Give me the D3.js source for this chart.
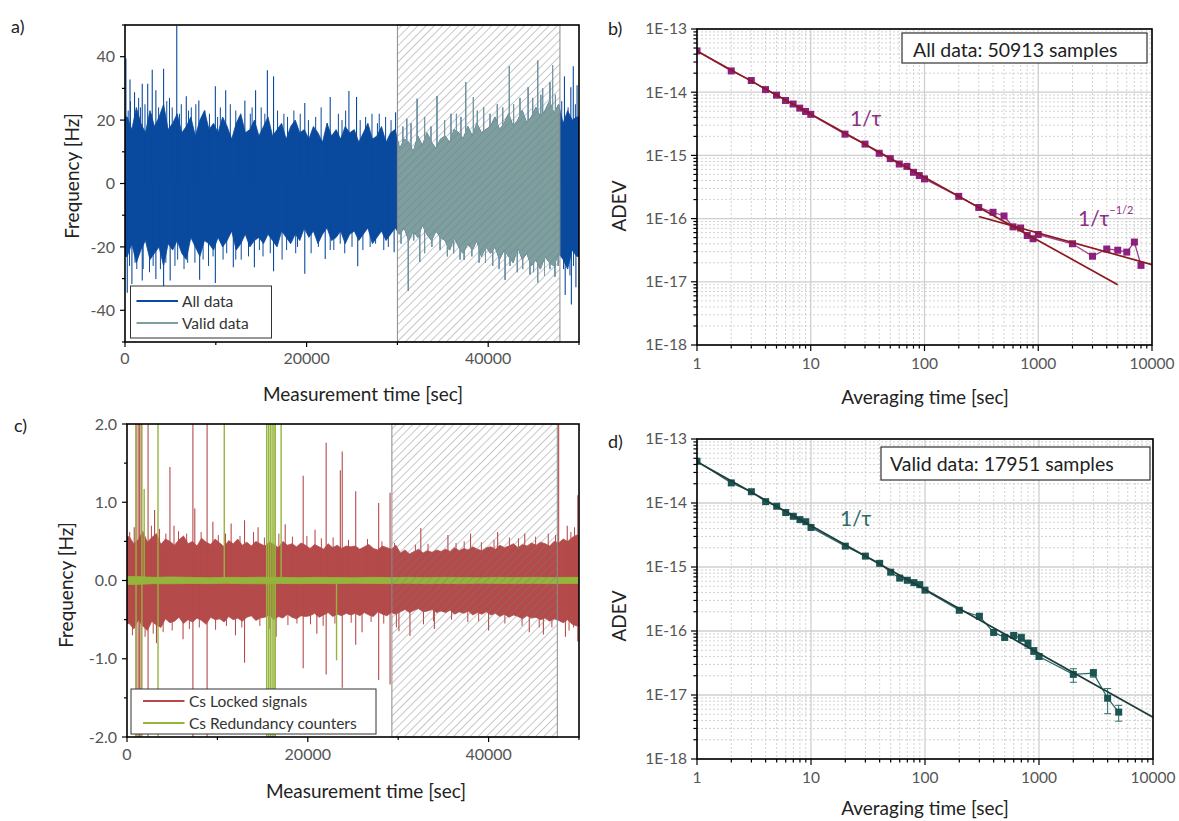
<!DOCTYPE html>
<html><head><meta charset="utf-8">
<script src="https://cdn.jsdelivr.net/npm/d3@7"></script>
<style>
body{margin:0;background:#fff;}
svg{display:block;font-family:Lato,"Open Sans",sans-serif;}
</style></head><body>
<svg id="chart" width="1179" height="821"></svg>
<script>
// ================= DATA =================
// --- panel a: frequency time series (envelope per 500 s bin) ---
const aBin = 500;
const aHi = [21,17,24,19,16,23,18,21,25,17, 19,22,16,18,21,15,20,23,17,19,
             16,21,18,14,19,22,16,17,20,15, 18,21,15,17,19,14,18,20,16,17,
             14,18,16,13,19,15,17,14,18,16, 17,13,16,19,14,15,18,13,16,17,
             11,14,13,10,15,12,16,13,11,14, 15,13,17,16,14,18,15,19,16,17,
             18,21,17,19,22,18,20,23,19,21, 24,21,23,26,22,25,19,23,20,21];
const aLo = [-23,-19,-25,-21,-18,-24,-22,-20,-26,-19, -21,-18,-22,-24,-17,-20,-23,-18,-19,-21,
             -17,-20,-18,-15,-21,-19,-16,-20,-18,-17, -19,-16,-18,-20,-15,-17,-19,-16,-18,-14,
             -17,-15,-19,-16,-14,-18,-17,-15,-19,-16, -15,-18,-16,-14,-19,-17,-15,-18,-16,-14,
             -16,-14,-18,-15,-17,-13,-16,-18,-15,-17, -18,-21,-17,-20,-22,-19,-21,-18,-23,-20,
             -22,-20,-24,-21,-23,-25,-20,-24,-22,-26, -24,-27,-23,-25,-26,-22,-24,-27,-21,-23];
// tall single excursions
const aSpikeT = [100,550,1050,1900,2500,3000,3400,4250,5700,6750,8130,9950,11090,13200,14380,15680,16360,19800,
                 22600,24660,25500,29800,31030,32170,34360,37520,38370,42330,44400,45450,46800,47090,48400,49100,49370,49790,
                 250,760,1900,3400,4250,4975,8220,9950,11930,14250,16360,19800,22050,25630,29640,31200,32460,
                 37350,41860,44600,45450,47350,48480,49160,49660];
const aSpikeV = [39.4,32.8,28.8,31.5,31.5,35.9,29.4,36.2,49.8,27.5,26.2,30.7,29.4,26.2,29.4,35.7,33.8,25.4,
                 27.3,29.2,27.3,22.5,20.4,26.7,27.6,32,27.3,37,30.4,38.8,32,37.3,33.8,30.4,37,31,
                 -34.5,-31.7,-30.6,-30.1,-33,-30.6,-30.4,-31.4,-26.4,-26.4,-27.7,-28.5,-23.8,-26.1,-21.7,-33.8,-24.8,
                 -24.1,-30.4,-28.7,-31.2,-29.4,-35.2,-38.2,-32.7];
// medium excursions forming the ragged edge
const aMidT = [350,600,1500,1700,2200,2900,3700,4100,4600,4900,5200,6000,6200,7000,7300,7800,8800,9300,10200,10500,
               11600,12200,12600,13800,14000,15000,15400,16800,17500,17900,18600,19300,20200,21000,21600,22300,23500,
               23900,24300,25900,26500,27200,27800,28000,28700,29300,30600,31500,33000,33700,35200,35900,36500,37000,
               38800,39500,40200,41000,41600,42800,43500,44900,45800,46000,47400,48100,48800,49600,
               500,1100,1300,2000,2700,3100,3900,4500,5500,5800,6500,6900,7700,8600,9200,9700,10800,11200,12200,12800,
               13600,14800,15200,16000,17300,17800,18800,19000,20500,21300,22600,23000,23700,24200,25000,26200,27000,
               27600,28500,29000,30400,31800,33000,33800,34700,35500,36200,36900,38200,39000,39700,40500,41200,42400,
               43200,43800,45000,46200,46800,47700,48300,49000,49400];
const aMidV = [23,26,27,24,25,22,24,23,26,27,24,22,25,23,24,25,23,22,21,24,
               25,23,21,22,24,24,22,23,22,21,23,22,20,21,24,19,22,
               20,23,20,21,22,19,22,21,20,18,19,21,18,20,22,22,21,
               23,24,22,25,24,25,27,27,28,30,28,26,24,25,
               -26,-25,-27,-27,-28,-26,-27,-25,-26,-24,-27,-25,-25,-24,-26,-23,-24,-22,-24,-24,
               -23,-21,-23,-22,-24,-21,-22,-20,-22,-20,-21,-21,-19,-22,-20,-21,-20,
               -19,-21,-20,-19,-18,-22,-20,-21,-23,-22,-24,-23,-25,-25,-26,-27,-26,
               -28,-27,-28,-29,-27,-26,-27,-29,-26];
const aValidWindow = [30000, 47900];

// --- panel c: Cs locked signals (red) and redundancy counters (green) ---
const cBin = 500;
const cRedHi = [0.56,0.47,0.52,0.63,0.49,0.55,0.6,0.46,0.53,0.5, 0.45,0.52,0.57,0.47,0.5,0.44,0.54,0.49,0.46,0.53,
                0.48,0.43,0.51,0.47,0.53,0.45,0.49,0.44,0.5,0.47, 0.44,0.49,0.46,0.42,0.5,0.45,0.47,0.43,0.48,0.45,
                0.41,0.46,0.43,0.4,0.47,0.42,0.45,0.41,0.44,0.43, 0.44,0.4,0.43,0.46,0.41,0.39,0.44,0.42,0.4,0.45,
                0.35,0.39,0.34,0.37,0.4,0.35,0.38,0.36,0.39,0.37, 0.4,0.37,0.42,0.38,0.41,0.39,0.43,0.4,0.38,0.42,
                0.43,0.4,0.45,0.42,0.44,0.47,0.42,0.46,0.44,0.48, 0.45,0.49,0.47,0.44,0.5,0.48,0.53,0.5,0.55,0.58];
const cRedLo = [-0.55,-0.62,-0.5,-0.58,-0.64,-0.52,-0.57,-0.6,-0.49,-0.54, -0.52,-0.47,-0.55,-0.5,-0.53,-0.48,-0.51,-0.56,-0.47,-0.5,
                -0.49,-0.53,-0.46,-0.5,-0.48,-0.52,-0.47,-0.45,-0.51,-0.48, -0.47,-0.44,-0.5,-0.46,-0.48,-0.43,-0.47,-0.49,-0.45,-0.46,
                -0.45,-0.42,-0.47,-0.44,-0.41,-0.46,-0.43,-0.45,-0.42,-0.44, -0.42,-0.45,-0.41,-0.44,-0.46,-0.4,-0.43,-0.45,-0.41,-0.43,
                -0.4,-0.37,-0.41,-0.38,-0.36,-0.4,-0.39,-0.37,-0.41,-0.39, -0.41,-0.38,-0.43,-0.4,-0.42,-0.39,-0.44,-0.41,-0.43,-0.4,
                -0.44,-0.42,-0.46,-0.43,-0.47,-0.44,-0.46,-0.49,-0.45,-0.48, -0.47,-0.5,-0.48,-0.52,-0.49,-0.51,-0.54,-0.5,-0.56,-0.58];
const cRedSpikeT = [800,1000,1000,1230,1230,1400,1400,1570,1570,2330,2330,3050,3260,4750,5200,6200,7290,7290,7500,8860,8860,
                    9500,11520,12000,13000,13000,14500,16500,17500,19490,19490,20800,21000,22030,22030,23600,23810,23810,
                    25300,25300,26000,27840,27840,29100,29100,30080,31300,32500,34000,35500,38000,40000,41000,44000,44500,
                    46060,47750,48500,48700,49870,49870];
const cRedSpikeV = [0.68,3,-3,3,-3,3,-3,3,-3,3,-3,0.9,-0.8,1.45,0.7,-0.75,3,-3,0.92,3,-3,
                    0.75,0.73,-0.7,0.77,-1.05,0.68,-0.72,0.72,1.34,-1.12,0.65,-0.68,1.76,-1.2,1.41,1.65,-1.37,
                    1.14,-0.82,-0.66,0.99,-1.27,1.12,-1.33,-0.65,-0.71,0.67,-0.62,0.58,0.6,-0.64,0.62,0.6,-0.66,
                    -0.69,3,-0.72,0.7,1.09,-0.78];
const cRedMidT = [300,2700,3600,4300,5700,6600,8200,10100,10900,12500,14000,15200,16800,18300,19900,21500,22800,24500,
                  26600,28200,29600,31900,33300,36400,37300,39200,40600,42300,43300,45200,46600,47400,49100,49500,
                  600,2000,2900,4000,5000,6900,8000,9800,11000,12700,14700,15800,17800,18800,20300,21700,23000,24800,
                  27000,28400,29800,32800,33900,35900,37700,38900,41800,43700,45600,47000,48900,49400];
const cRedMidV = [0.62,0.7,0.66,0.6,0.63,0.6,0.62,0.58,0.6,0.57,0.62,0.55,0.6,0.56,0.57,0.54,0.55,0.52,
                  0.53,0.5,0.48,0.46,0.47,0.48,0.5,0.49,0.52,0.55,0.54,0.56,0.6,0.58,0.62,0.68,
                  -0.7,-0.72,-0.68,-0.66,-0.64,-0.62,-0.6,-0.63,-0.58,-0.6,-0.58,-0.62,-0.57,-0.55,-0.56,-0.58,-0.55,-0.54,
                  -0.53,-0.55,-0.6,-0.56,-0.52,-0.5,-0.53,-0.52,-0.55,-0.58,-0.6,-0.6,-0.64,-0.6];
const cGreenBin = 2000;
const cGreenHi = [0.05,0.04,0.045,0.04,0.035,0.04,0.038,0.042,0.04,0.036,0.04,0.038,0.035,0.04,0.037,0.04,0.036,0.04,0.038,0.035,0.04,0.037,0.04,0.038,0.04];
const cGreenLo = [-0.05,-0.04,-0.042,-0.038,-0.04,-0.036,-0.04,-0.042,-0.038,-0.04,-0.037,-0.04,-0.036,-0.038,-0.04,-0.035,-0.04,-0.037,-0.04,-0.036,-0.038,-0.04,-0.037,-0.04,-0.038];
const cGreenSpikeT = [1000,1000,1650,1650,1900,3430,3430,10760,15450,15450,15650,15650,15850,15850,16050,16050,16250,16250,16400,16400,17050,23180];
const cGreenSpikeV = [3,-3,3,-3,1.17,3,-3,3,3,-3,3,-3,3,-3,3,-3,3,-3,3,-3,3,-1.02];
const cValidWindow = [29300, 47600];

// --- panel b: ADEV, all data ---
const tauB  = [1,2,3,4,5,6,7,8,9,10,20,30,40,50,60,70,80,90,100,200,300,400,500,600,700,800,900,1000,2000,3000,4000,5000,6000,7000,8000];
const adevB = [4.5e-14,2.17e-14,1.53e-14,1.10e-14,8.97e-15,7.4e-15,6.5e-15,5.6e-15,4.96e-15,4.46e-15,
               2.17e-15,1.51e-15,1.08e-15,8.9e-16,7.3e-16,6.7e-16,5.4e-16,4.8e-16,4.25e-16,
               2.25e-16,1.5e-16,1.26e-16,1.1e-16,7.4e-17,7.1e-17,5.4e-17,4.8e-17,5.6e-17,
               4.0e-17,2.54e-17,3.3e-17,3.16e-17,2.95e-17,4.25e-17,1.82e-17];
const fitB1Tau = [1, 5000],   fitB1Adev = [4.5e-14, 9.0e-18];
const fitB2Tau = [300, 10000], fitB2Adev = [1.08e-16, 1.87e-17];

// --- panel d: ADEV, valid data ---
const tauD  = [1,2,3,4,5,6,7,8,9,10,20,30,40,50,60,70,80,90,100,200,300,400,500,600,700,800,900,1000,2000,3000,4000,5000];
const adevD = [4.5e-14,2.06e-14,1.5e-14,1.05e-14,8.9e-15,7.1e-15,6.2e-15,5.5e-15,5.1e-15,4.15e-15,
               2.12e-15,1.48e-15,1.14e-15,8.3e-16,6.7e-16,6.2e-16,5.7e-16,5.3e-16,4.35e-16,
               2.11e-16,1.7e-16,9.5e-17,7.95e-17,8.5e-17,7.85e-17,6.4e-17,4.9e-17,4.0e-17,
               2.1e-17,2.2e-17,8.9e-18,5.4e-18];
const errLoD = [null,null,null,null,null,null,null,null,null,null,null,null,null,null,null,null,null,null,null,
                1.95e-16,1.6e-16,8.8e-17,7.2e-17,7.8e-17,6.9e-17,5.4e-17,4.3e-17,3.6e-17,1.58e-17,1.9e-17,5.1e-18,3.9e-18];
const errHiD = [null,null,null,null,null,null,null,null,null,null,null,null,null,null,null,null,null,null,null,
                2.28e-16,1.8e-16,1.03e-16,8.8e-17,9.2e-17,8.9e-17,7.2e-17,5.5e-17,4.4e-17,2.57e-17,2.5e-17,1.26e-17,6.9e-18];
const fitDTau = [1, 10000], fitDAdev = [4.4e-14, 4.5e-18];

// --- ticks / labels ---
const timeTicks = [0, 20000, 40000];
const timeMinor = [10000, 30000, 50000];
const aYTicks = [-40, -20, 0, 20, 40];
const aYMinor = [-50, -30, -10, 10, 30, 50];
const cYTicks = [-2, -1, 0, 1, 2];
const cYLabels = ["-2.0", "-1.0", "0.0", "1.0", "2.0"];
const cYMinor = [-1.5, -0.5, 0.5, 1.5];
const tauTicks = [1, 10, 100, 1000, 10000];
const tauLabels = ["1", "10", "100", "1000", "10000"];
const adevTicks = [1e-18, 1e-17, 1e-16, 1e-15, 1e-14, 1e-13];
const adevLabels = ["1E-18", "1E-17", "1E-16", "1E-15", "1E-14", "1E-13"];

// ================= DRAWING =================
const svg = d3.select("#chart");
const defs = svg.append("defs");
const pat = defs.append("pattern").attr("id", "hatch").attr("patternUnits", "userSpaceOnUse")
  .attr("width", 5.8).attr("height", 5.8).attr("patternTransform", "rotate(45)");
pat.append("line").attr("x1", 0).attr("y1", 0).attr("x2", 0).attr("y2", 5.8)
  .attr("stroke", "#7a7a7a").attr("stroke-width", 0.85);

const TICKC = "#555", TITLEC = "#222";

const PA = {l:125, r:579, t:25, b:342};
const PB = {l:697, r:1152, t:29, b:345};
const PC = {l:127, r:579, t:424, b:737};
const PD = {l:697, r:1153, t:439, b:759};

function clipFor(id, P) {
  defs.append("clipPath").attr("id", id).append("rect")
    .attr("x", P.l).attr("y", P.t).attr("width", P.r - P.l).attr("height", P.b - P.t);
  return `url(#${id})`;
}
function envelope(g, x, y, hi, lo, bw, color) {
  const pts = hi.map((v, i) => ({t: i * bw + bw / 2, hi: v, lo: lo[i]}));
  pts.unshift({t: 0, hi: hi[0], lo: lo[0]});
  pts.push({t: hi.length * bw, hi: hi[hi.length - 1], lo: lo[lo.length - 1]});
  g.append("path").datum(pts)
    .attr("d", d3.area().x(d => x(d.t)).y0(d => y(d.lo)).y1(d => y(d.hi)))
    .attr("fill", color).attr("stroke", color).attr("stroke-width", 0.8);
}
function spikes(g, x, y, T, V, color, w) {
  g.append("g").selectAll("line").data(T.map((t, i) => ({t, v: V[i]}))).join("line")
    .attr("x1", d => x(d.t)).attr("x2", d => x(d.t))
    .attr("y1", y(0)).attr("y2", d => y(d.v))
    .attr("stroke", color).attr("stroke-width", w);
}
function frame(P) {
  svg.append("rect").attr("x", P.l).attr("y", P.t).attr("width", P.r - P.l).attr("height", P.b - P.t)
    .attr("fill", "none").attr("stroke", "#000").attr("stroke-width", 1.6);
}
function text(x, y, s, opt = {}) {
  const t = svg.append("text").attr("x", x).attr("y", y).text(s)
    .attr("font-size", opt.size || 16).attr("fill", opt.color || TICKC)
    .attr("text-anchor", opt.anchor || "start");
  if (opt.rotate) t.attr("transform", `rotate(-90,${x},${y})`);
  return t;
}
function xTicks(P, x, major, minor, labels, len, labelY, size) {
  const g = svg.append("g");
  major.concat(minor).forEach(v => {
    g.append("line").attr("x1", x(v)).attr("x2", x(v)).attr("y1", P.b).attr("y2", P.b + (major.includes(v) ? len : len * 0.6))
      .attr("stroke", "#000").attr("stroke-width", 1.2);
  });
  major.forEach((v, i) => text(x(v), labelY, labels[i], {anchor: "middle", size}));
}
function yTicks(P, y, major, minor, labels, len, labelX, size) {
  const g = svg.append("g");
  major.concat(minor).forEach(v => {
    g.append("line").attr("y1", y(v)).attr("y2", y(v)).attr("x1", P.l).attr("x2", P.l - (major.includes(v) ? len : len * 0.6))
      .attr("stroke", "#000").attr("stroke-width", 1.2);
  });
  major.forEach((v, i) => text(labelX, y(v) + size * 0.35, labels[i], {anchor: "end", size}));
}
function hatchWindow(P, x, win) {
  svg.append("rect").attr("x", x(win[0])).attr("y", P.t).attr("width", x(win[1]) - x(win[0])).attr("height", P.b - P.t)
    .attr("fill", "url(#hatch)").attr("stroke", "#8a8a8a").attr("stroke-width", 1);
}
function legendBox(x0, y0, w, h, items, size) {
  svg.append("rect").attr("x", x0).attr("y", y0).attr("width", w).attr("height", h)
    .attr("fill", "#fff").attr("stroke", "#333").attr("stroke-width", 1);
  items.forEach(it => {
    svg.append("line").attr("x1", it.lx1).attr("x2", it.lx2).attr("y1", it.y).attr("y2", it.y)
      .attr("stroke", it.color).attr("stroke-width", 2);
    text(it.tx, it.y + size * 0.36, it.label, {size, color: "#333"});
  });
}

// ---------- Panel a ----------
{
  const P = PA;
  const x = d3.scaleLinear().domain([0, 50000]).range([P.l, P.r]);
  const y = d3.scaleLinear().domain([-50, 50]).range([P.b, P.t]);
  const g = svg.append("g").attr("clip-path", clipFor("clipA", P));
  const blue = "#0a4a9e", teal = "#7d9f9f";
  const drawAll = (gg, col) => {
    envelope(gg, x, y, aHi, aLo, aBin, col);
    spikes(gg, x, y, aMidT, aMidV, col, 1);
    spikes(gg, x, y, aSpikeT, aSpikeV, col, 1.1);
  };
  drawAll(g, blue);
  const vw = {l: x(aValidWindow[0]), r: x(aValidWindow[1]), t: P.t, b: P.b};
  drawAll(svg.append("g").attr("clip-path", clipFor("clipAv", vw)), teal);
  hatchWindow(P, x, aValidWindow);
  legendBox(130.5, 286, 141, 52, [
    {y: 301, lx1: 136.5, lx2: 178, tx: 182, label: "All data", color: blue},
    {y: 323, lx1: 136.5, lx2: 178, tx: 182, label: "Valid data", color: teal}], 15.5);
  frame(P);
  xTicks(P, x, timeTicks, timeMinor, timeTicks.map(String), 5, 364, 16);
  yTicks(P, y, aYTicks, aYMinor, aYTicks.map(String), 5, 115, 16);
  text(363, 401, "Measurement time [sec]", {anchor: "middle", size: 19, color: TITLEC});
  text(79, 176, "Frequency [Hz]", {anchor: "middle", size: 19, color: TITLEC, rotate: true});
  text(11, 33, "a)", {size: 18, color: TITLEC});
}

// ---------- Panel c ----------
{
  const P = PC;
  const x = d3.scaleLinear().domain([0, 50000]).range([P.l, P.r]);
  const y = d3.scaleLinear().domain([-2, 2]).range([P.b, P.t]);
  const g = svg.append("g").attr("clip-path", clipFor("clipC", P));
  const red = "#b54a4a", green = "#95b43c";
  envelope(g, x, y, cRedHi, cRedLo, cBin, red);
  spikes(g, x, y, cRedMidT, cRedMidV, red, 1);
  spikes(g, x, y, cRedSpikeT, cRedSpikeV, red, 1.1);
  envelope(g, x, y, cGreenHi, cGreenLo, cGreenBin, green);
  spikes(g, x, y, cGreenSpikeT, cGreenSpikeV, green, 1.4);
  hatchWindow(P, x, cValidWindow);
  legendBox(131, 689, 245, 45, [
    {y: 701, lx1: 143, lx2: 184.5, tx: 189, label: "Cs Locked signals", color: red},
    {y: 723, lx1: 143, lx2: 184.5, tx: 189, label: "Cs Redundancy counters", color: green}], 15.5);
  frame(P);
  xTicks(P, x, timeTicks, timeMinor, timeTicks.map(String), 5, 760, 16);
  yTicks(P, y, cYTicks, cYMinor, cYLabels, 5, 117, 16);
  text(366, 798, "Measurement time [sec]", {anchor: "middle", size: 19, color: TITLEC});
  text(73, 585, "Frequency [Hz]", {anchor: "middle", size: 19, color: TITLEC, rotate: true});
  text(14, 432, "c)", {size: 18, color: TITLEC});
}

// ---------- ADEV panels ----------
function adevPanel(P, cfg) {
  const x = d3.scaleLog().domain([1, 1e4]).range([P.l, P.r]);
  const y = d3.scaleLog().domain([1e-18, 1e-13]).range([P.b, P.t]);
  const minorX = [], minorY = [];
  for (let k = 0; k < 4; k++) for (let m = 2; m < 10; m++) minorX.push(m * Math.pow(10, k));
  for (let k = -18; k < -13; k++) for (let m = 2; m < 10; m++) minorY.push(m * Math.pow(10, k));
  const grid = svg.append("g");
  grid.selectAll(".mx").data(minorX).join("line").attr("class", "mx")
    .attr("x1", d => x(d)).attr("x2", d => x(d)).attr("y1", P.t).attr("y2", P.b)
    .attr("stroke", "#c8c8c8").attr("stroke-width", 0.8).attr("stroke-dasharray", "2,2");
  grid.selectAll(".my").data(minorY).join("line").attr("class", "my")
    .attr("y1", d => y(d)).attr("y2", d => y(d)).attr("x1", P.l).attr("x2", P.r)
    .attr("stroke", "#c8c8c8").attr("stroke-width", 0.8).attr("stroke-dasharray", "2,2");
  grid.selectAll(".Mx").data(tauTicks).join("line").attr("class", "Mx")
    .attr("x1", d => x(d)).attr("x2", d => x(d)).attr("y1", P.t).attr("y2", P.b)
    .attr("stroke", "#cfcfcf").attr("stroke-width", 1.3);
  grid.selectAll(".My").data(adevTicks).join("line").attr("class", "My")
    .attr("y1", d => y(d)).attr("y2", d => y(d)).attr("x1", P.l).attr("x2", P.r)
    .attr("stroke", "#cfcfcf").attr("stroke-width", 1.3);

  const g = svg.append("g").attr("clip-path", clipFor(cfg.id, P));
  const pts = cfg.tau.map((t, i) => ({t, v: cfg.adev[i]}));
  if (cfg.errLo) {
    const eb = pts.map((p, i) => ({t: p.t, lo: cfg.errLo[i], hi: cfg.errHi[i]})).filter(d => d.lo != null);
    const ge = g.append("g").attr("stroke", cfg.errColor).attr("stroke-width", 1);
    eb.forEach(d => {
      ge.append("line").attr("x1", x(d.t)).attr("x2", x(d.t)).attr("y1", y(d.lo)).attr("y2", y(d.hi));
      ge.append("line").attr("x1", x(d.t) - 3.5).attr("x2", x(d.t) + 3.5).attr("y1", y(d.lo)).attr("y2", y(d.lo));
      ge.append("line").attr("x1", x(d.t) - 3.5).attr("x2", x(d.t) + 3.5).attr("y1", y(d.hi)).attr("y2", y(d.hi));
    });
  }
  g.append("path").datum(pts).attr("d", d3.line().x(d => x(d.t)).y(d => y(d.v)))
    .attr("fill", "none").attr("stroke", cfg.lineColor).attr("stroke-width", 1.3);
  g.selectAll(".pt").data(pts).join("rect").attr("class", "pt")
    .attr("x", d => x(d.t) - 3.5).attr("y", d => y(d.v) - 3.5).attr("width", 7).attr("height", 7)
    .attr("fill", cfg.pointColor);
  cfg.fits.forEach(f => {
    const fp = f.tau.map((t, i) => ({t, v: f.adev[i]}));
    g.append("path").datum(fp).attr("d", d3.line().x(d => x(d.t)).y(d => y(d.v)))
      .attr("fill", "none").attr("stroke", cfg.fitColor).attr("stroke-width", 1.7);
  });
  frame(P);
  xTicks(P, x, tauTicks, minorX.filter(v => !tauTicks.includes(v)), tauLabels, 6, P.b + 24, 15.5);
  yTicks(P, y, adevTicks, minorY, adevLabels, 6, P.l - 10, 15.5);
  return {x, y};
}

{
  const P = PB;
  const purple = "#8c1f7f";
  adevPanel(P, {id: "clipB", tau: tauB, adev: adevB, pointColor: purple, lineColor: "#9b3a90",
    fitColor: "#8a1a1f", fits: [{tau: fitB1Tau, adev: fitB1Adev}, {tau: fitB2Tau, adev: fitB2Adev}]});
  svg.append("rect").attr("x", 902).attr("y", 33).attr("width", 245).attr("height", 30)
    .attr("fill", "#fff").attr("stroke", "#333").attr("stroke-width", 1.2);
  text(913, 57, "All data: 50913 samples", {size: 19.5, color: "#222"});
  text(850, 126, "1/τ", {size: 21, color: "#8c2f86"});
  const t2 = text(1078, 226, "1/τ", {size: 21, color: "#8c2f86"});
  t2.append("tspan").attr("dy", -12).attr("font-size", 11).text("−1/2");
  text(626, 206, "ADEV", {anchor: "middle", size: 19, color: TITLEC, rotate: true});
  text(925, 404, "Averaging time [sec]", {anchor: "middle", size: 19, color: TITLEC});
  text(608, 35, "b)", {size: 18, color: TITLEC});
}
{
  const P = PD;
  adevPanel(P, {id: "clipD", tau: tauD, adev: adevD, pointColor: "#1b5553", lineColor: "#2c6b67",
    errLo: errLoD, errHi: errHiD, errColor: "#2f6e6a",
    fitColor: "#1e3c39", fits: [{tau: fitDTau, adev: fitDAdev}]});
  svg.append("rect").attr("x", 881).attr("y", 447).attr("width", 269).attr("height", 33)
    .attr("fill", "#fff").attr("stroke", "#333").attr("stroke-width", 1.2);
  text(890, 471, "Valid data: 17951 samples", {size: 19.5, color: "#222"});
  text(840, 526, "1/τ", {size: 21, color: "#2d6b67"});
  text(626, 616, "ADEV", {anchor: "middle", size: 19, color: TITLEC, rotate: true});
  text(925, 815, "Averaging time [sec]", {anchor: "middle", size: 19, color: TITLEC});
  text(608, 448, "d)", {size: 18, color: TITLEC});
}
</script>
</body></html>
